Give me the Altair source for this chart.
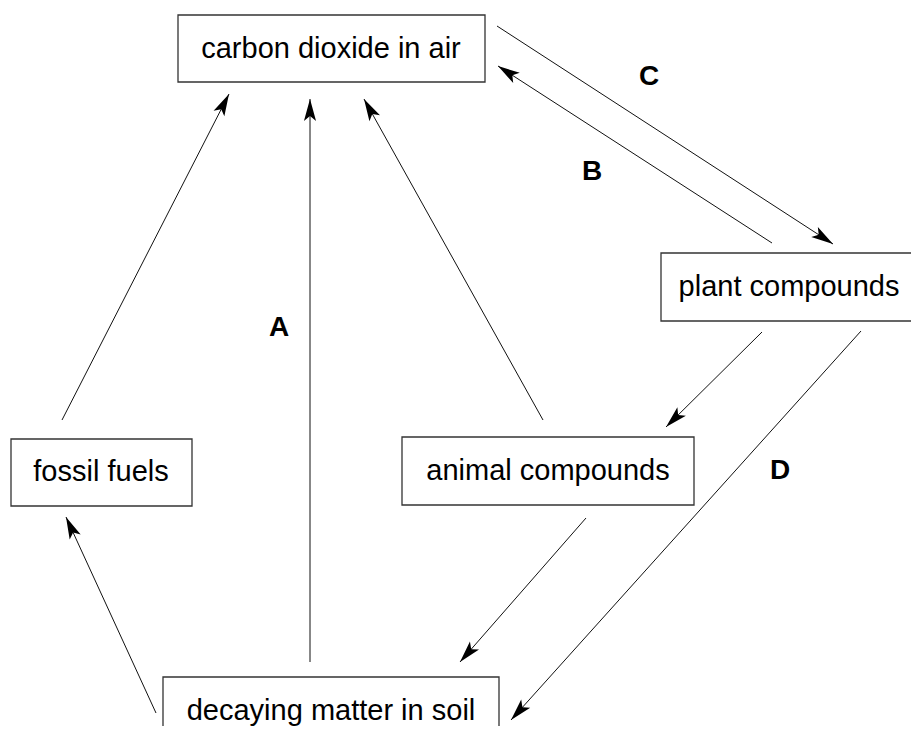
import altair as alt
import pandas as pd
import numpy as np

# canvas in picture pixels (page margin 8px)
W, H = 903, 718
OX, OY = 8, 8

# boxes
box_labels = ["carbon dioxide in air", "plant compounds", "fossil fuels",
              "animal compounds", "decaying matter in soil"]
box_x1 = [178, 661, 11, 402, 163]
box_x2 = [485, 917, 192, 694, 499]
box_y1 = [15, 253, 439, 437, 677]
box_y2 = [82, 321, 506, 505, 770]
text_x = [331, 789, 101, 548, 331]
text_y = [49, 287, 472, 471, 711]

# arrows (start -> tip)
arrow_x1 = [62, 310, 543, 497, 772, 762, 861, 586, 156]
arrow_y1 = [420, 662, 420, 26, 243, 332, 331, 518, 713]
arrow_x2 = [229, 310, 364, 833, 498, 666, 511, 460, 66]
arrow_y2 = [94, 99, 99, 244, 66, 427, 720, 662, 517]

# letter labels
letters = ["A", "B", "C", "D"]
letter_x = [279, 592, 649, 780]
letter_y = [328, 172, 77, 471]

boxes = pd.DataFrame({"label": box_labels, "x": box_x1, "x2": box_x2,
                      "y": box_y1, "y2": box_y2, "tx": text_x, "ty": text_y})
arrows = pd.DataFrame({"x": arrow_x1, "y": arrow_y1, "x2": arrow_x2, "y2": arrow_y2})
dx = arrows["x2"] - arrows["x"]
dy = arrows["y2"] - arrows["y"]
arrows["angle"] = (np.degrees(np.arctan2(dx, -dy)) + 360) % 360
labels = pd.DataFrame({"t": letters, "x": letter_x, "y": letter_y})

xs = alt.Scale(domain=[OX, OX + W])
ys = alt.Scale(domain=[OY, OY + H], reverse=True)

rects = alt.Chart(boxes).mark_rect(fill="white", stroke="#333", strokeWidth=1.3, clip=True).encode(
    x=alt.X("x:Q", scale=xs, axis=None), x2="x2:Q",
    y=alt.Y("y:Q", scale=ys, axis=None), y2="y2:Q")

box_text = alt.Chart(boxes).mark_text(font="Liberation Sans", fontSize=29, color="black",
                                      align="center", baseline="middle").encode(
    x=alt.X("tx:Q", scale=xs, axis=None), y=alt.Y("ty:Q", scale=ys, axis=None), text="label:N")

lines = alt.Chart(arrows).mark_rule(color="#111", strokeWidth=1).encode(
    x=alt.X("x:Q", scale=xs, axis=None), x2="x2:Q",
    y=alt.Y("y:Q", scale=ys, axis=None), y2="y2:Q")

head_path = "M0,0 L0.55,2 L0,1.55 L-0.55,2 Z"
heads = alt.Chart(arrows).mark_point(shape=head_path, filled=True, color="black",
                                     opacity=1, size=484, strokeWidth=0).encode(
    x=alt.X("x2:Q", scale=xs, axis=None), y=alt.Y("y2:Q", scale=ys, axis=None),
    angle=alt.Angle("angle:Q", scale=None))

letter_text = alt.Chart(labels).mark_text(font="Liberation Sans", fontSize=28, fontWeight="bold",
                                          color="black", align="center", baseline="middle").encode(
    x=alt.X("x:Q", scale=xs, axis=None), y=alt.Y("y:Q", scale=ys, axis=None), text="t:N")

chart = alt.layer(lines, heads, rects, box_text, letter_text).properties(
    width=W, height=H, padding=0, autosize=alt.AutoSizeParams(type="none"),
    background="white"
).configure_view(stroke=None)

chart.save("out.html", embed_options={"renderer": "svg", "actions": False})
